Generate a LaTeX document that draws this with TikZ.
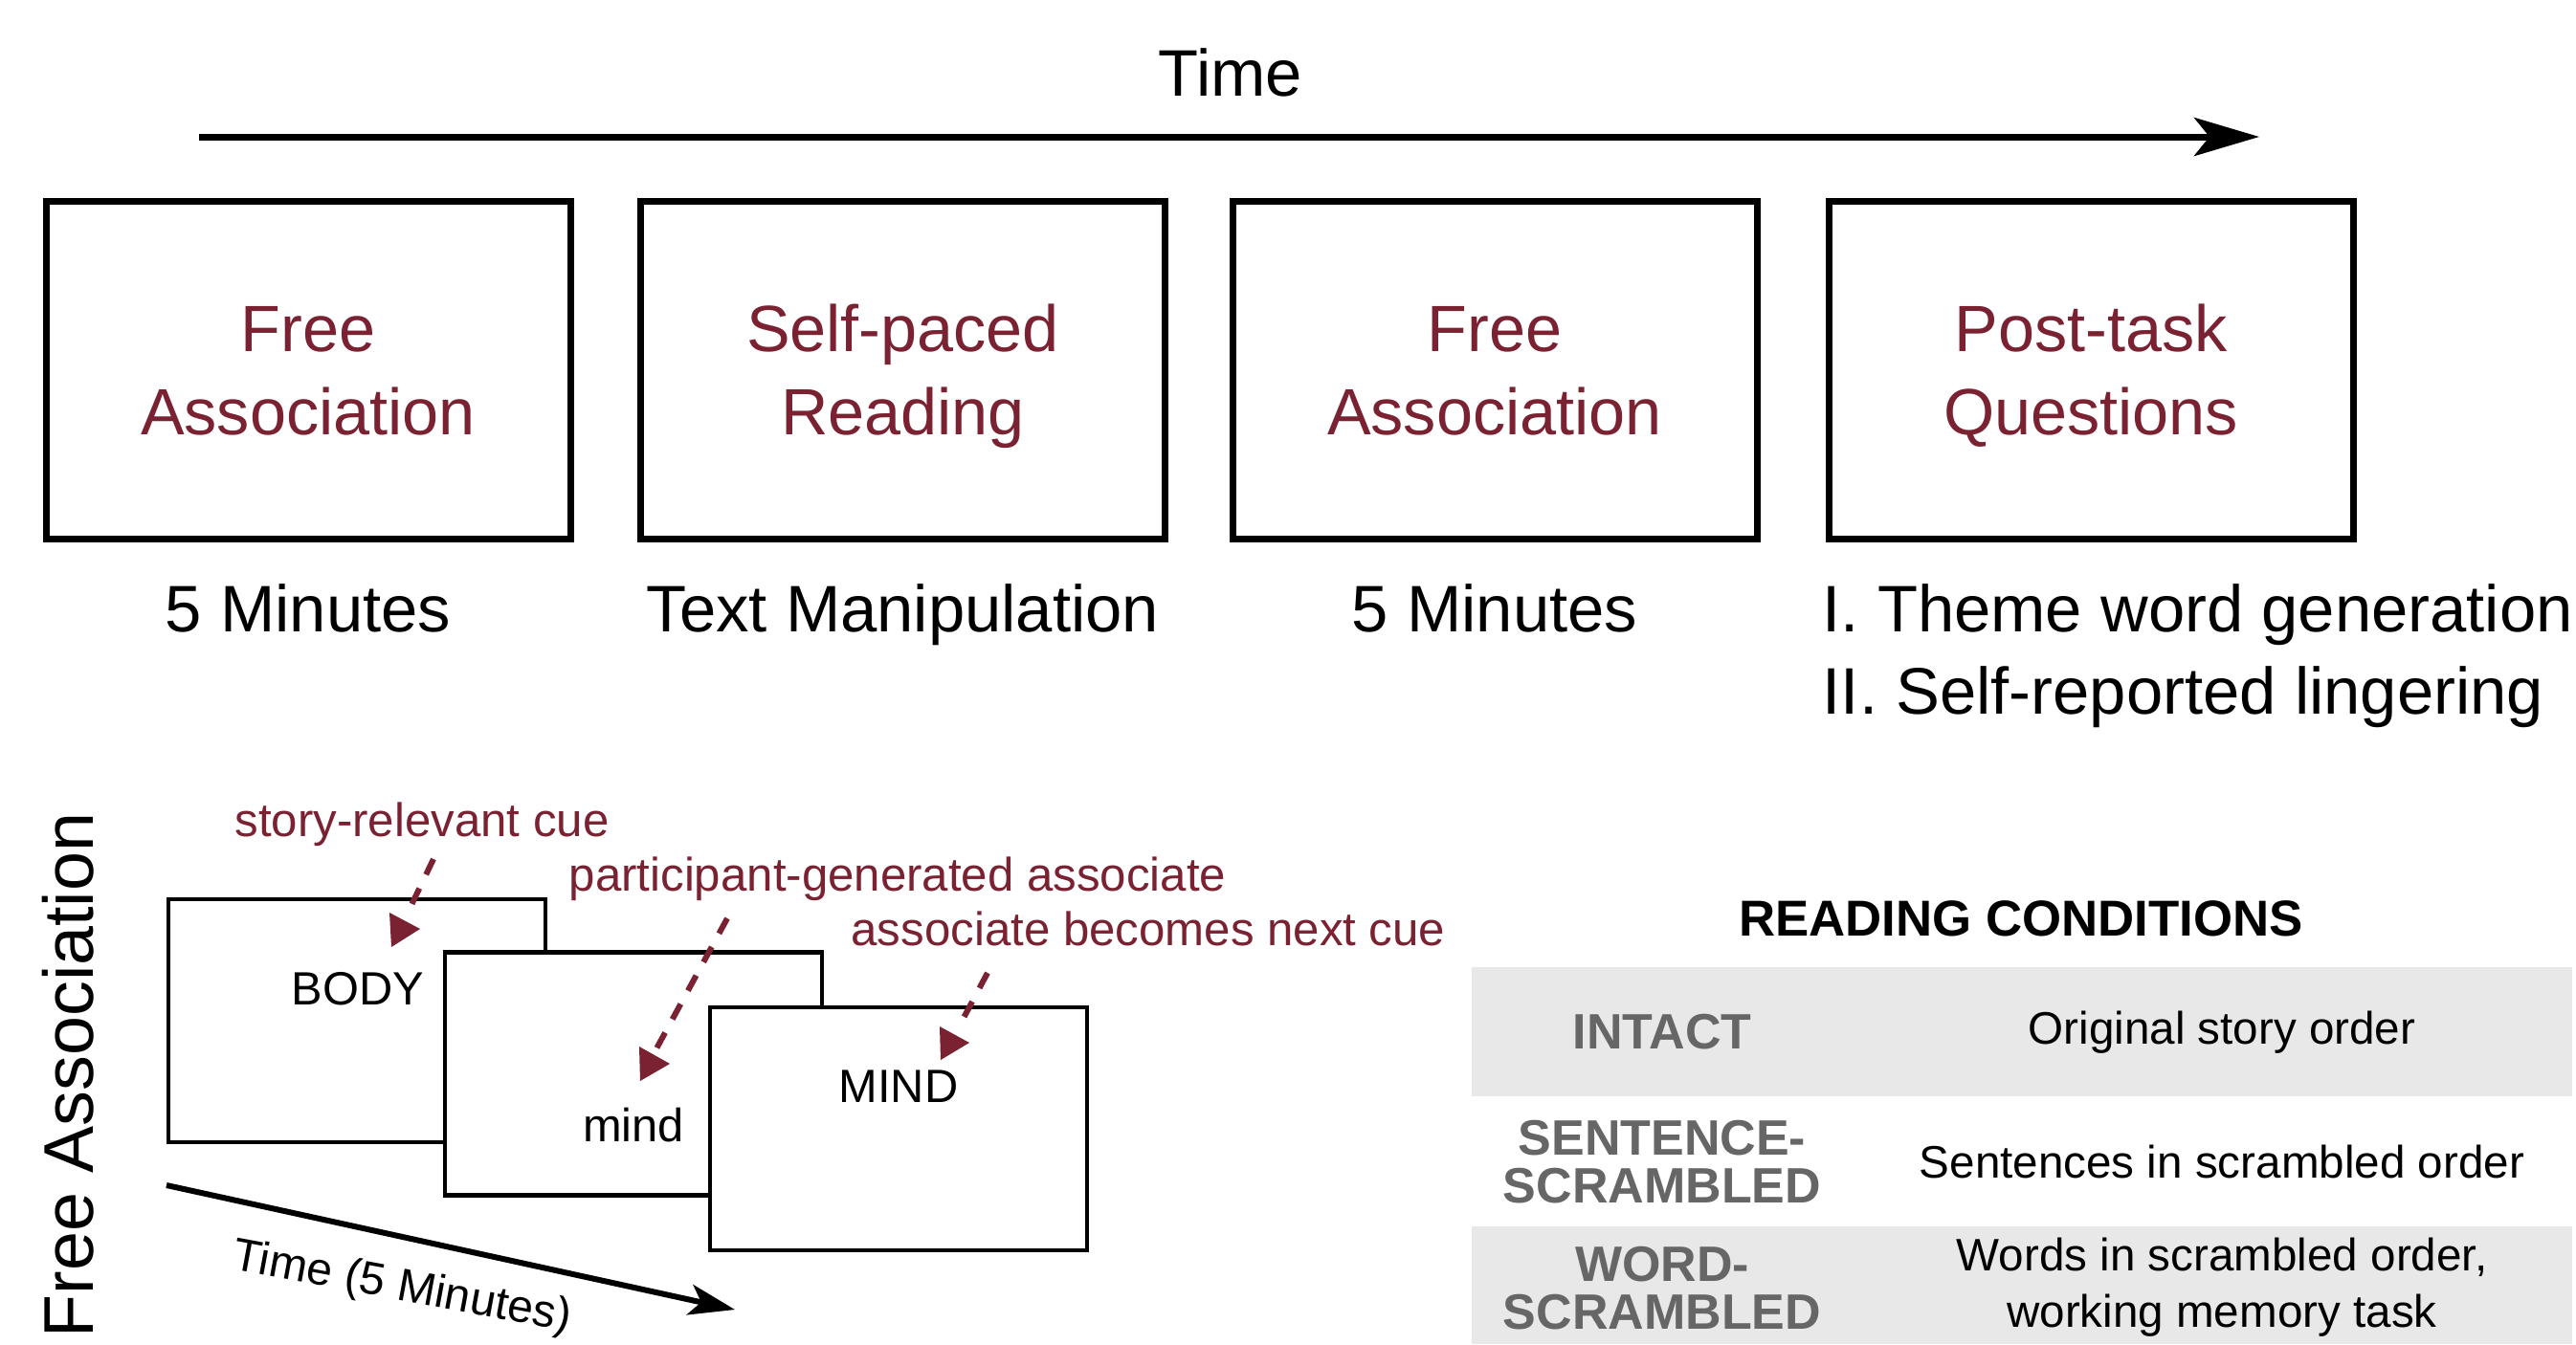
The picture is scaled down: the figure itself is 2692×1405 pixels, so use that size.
\documentclass[tikz,border=0pt]{standalone}
\usepackage{fontspec}
\setmainfont{Liberation Sans}
\usetikzlibrary{arrows.meta}
\definecolor{dred}{RGB}{122,33,50}
\definecolor{rowgray}{RGB}{232,232,232}
\definecolor{labgray}{RGB}{102,102,102}
\begin{document}
\begin{tikzpicture}[x=0.25pt,y=-0.25pt,
  stagebox/.style={draw, line width=1.75pt, minimum width=137pt, minimum height=88.25pt, inner sep=0pt},
  stagetext/.style={text=dred, align=center, inner sep=0pt, anchor=base, font=\fontsize{17.1pt}{21.75pt}\selectfont},
  subtext/.style={inner sep=0pt, anchor=base, font=\fontsize{17.2pt}{21.5pt}\selectfont},
  card/.style={draw, fill=white, line width=1.15pt, minimum width=98.5pt, minimum height=63.5pt, inner sep=0pt},
  cardword/.style={inner sep=0pt, anchor=base, font=\fontsize{12.2pt}{14pt}\selectfont},
  cuelabel/.style={text=dred, inner sep=0pt, anchor=base, font=\fontsize{12.3pt}{14pt}\selectfont},
  cuearrow/.style={draw=dred, line width=1.5pt, dash pattern=on 4.5pt off 4pt},
  cuehead/.style={fill=dred},
  condlabel/.style={text=labgray, align=center, inner sep=0pt, anchor=base, font=\fontsize{13pt}{12.5pt}\bfseries\selectfont},
  conddesc/.style={align=center, inner sep=0pt, anchor=base, font=\fontsize{11.9pt}{14.75pt}\selectfont}
]
\useasboundingbox (0,0) rectangle (2692,1405);
\fill[white] (0,0) rectangle (2692,1405);

% --- top timeline ---
\node[subtext] (timelbl) at (1286,100) {Time};
\coordinate (t0) at (208,143);
\coordinate (t1) at (2361,143);
\draw[line width=1.75pt, -{Stealth[length=17pt, width=10pt, inset=4pt]}] (t0) -- (t1);

% --- stage boxes ---
\node[stagebox] (b1) at (322,386.5) {};
\node[stagebox] (b2) at (943.5,386.5) {};
\node[stagebox] (b3) at (1562,386.5) {};
\node[stagebox] (b4) at (2185,386.5) {};
\node[stagetext] (b1t) at (322,454) {Free\\Association};
\node[stagetext] (b2t) at (943.5,454) {Self-paced\\Reading};
\node[stagetext] (b3t) at (1562,454) {Free\\Association};
\node[stagetext] (b4t) at (2185,454) {Post-task\\Questions};

\node[subtext] (s1) at (322,660) {5 Minutes};
\node[subtext] (s2) at (943.5,660) {Text Manipulation};
\node[subtext] (s3) at (1562,660) {5 Minutes};
\node[subtext, anchor=base west, align=left] (s4) at (1904,746) {I. Theme word generation\\II. Self-reported lingering};

% --- free association detail ---
\node[rotate=90, anchor=base, inner sep=0pt, font=\fontsize{18.4pt}{20pt}\selectfont] (falbl) at (97,1124) {Free Association};

\node[card] (c1) at (373,1067) {};
\node[cardword] (w1) at (374,1050) {BODY};
\node[card] (c2) at (662,1122.5) {};
\node[cardword] (w2) at (662,1193) {mind};
\node[card] (c3) at (939,1180) {};
\node[cardword] (w3) at (939,1152) {MIND};

\node[cuelabel] (l1) at (441,874) {story-relevant cue};
\node[cuelabel] (l2) at (938,931) {participant-generated associate};
\node[cuelabel] (l3) at (1200,988) {associate becomes next cue};

\coordinate (a1s) at (453,898);
\coordinate (a1e) at (429,948);
\draw[cuearrow] (a1s) -- (a1e);
\fill[cuehead] (407,954) -- (439,971) -- (409,990) -- cycle;

\coordinate (a2s) at (760,960);
\coordinate (a2e) at (685,1098);
\draw[cuearrow] (a2s) -- (a2e);
\fill[cuehead] (668,1094) -- (700,1112) -- (669,1130) -- cycle;

\coordinate (a3s) at (1032,1017);
\coordinate (a3e) at (1007,1064);
\draw[cuearrow] (a3s) -- (a3e);
\fill[cuehead] (982,1073) -- (1013,1090) -- (983,1108) -- cycle;

\coordinate (ta0) at (174,1239);
\coordinate (ta1) at (768,1369);
\draw[line width=1.5pt, -{Stealth[length=12pt, width=8pt, inset=3pt]}] (ta0) -- (ta1);
\node[rotate=-10.5, anchor=base, inner sep=0pt, font=\fontsize{12pt}{14pt}\selectfont] (talbl) at (418,1359) {Time (5 Minutes)};

% --- reading conditions table ---
\node[inner sep=0pt, anchor=base, font=\fontsize{13.2pt}{15pt}\bfseries\selectfont] (rctitle) at (2112,978) {READING CONDITIONS};
\fill[rowgray] (1538,1011) rectangle (2688,1146);
\fill[rowgray] (1538,1282) rectangle (2688,1405);

\node[condlabel] (r1l) at (1737,1096) {INTACT};
\node[conddesc] (r1d) at (2322,1091) {Original story order};
\node[condlabel] (r2l) at (1737,1257) {SENTENCE-\\SCRAMBLED};
\node[conddesc] (r2d) at (2322,1231) {Sentences in scrambled order};
\node[condlabel] (r3l) at (1737,1389) {WORD-\\SCRAMBLED};
\node[conddesc] (r3d) at (2322,1387) {Words in scrambled order,\\working memory task};
\end{tikzpicture}
\end{document}
